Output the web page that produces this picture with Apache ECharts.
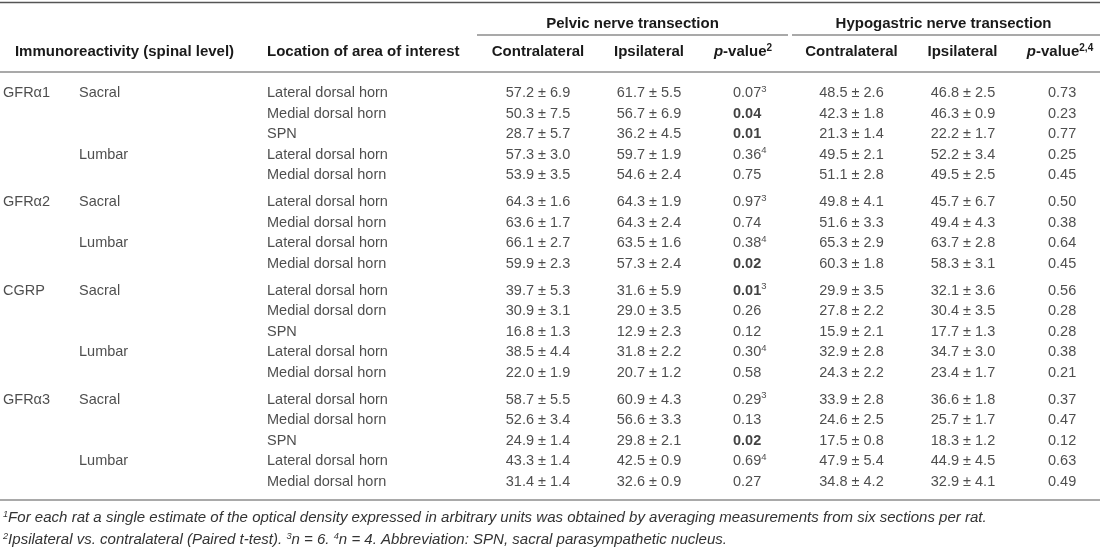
<!DOCTYPE html>
<html><head><meta charset="utf-8">
<script src="https://cdn.jsdelivr.net/npm/echarts@6/dist/echarts.min.js"></script>
<style>html,body{margin:0;padding:0;background:#fff}#c{width:1100px;height:551px}</style>
</head><body><div id="c"></div>
<script>
// ---------- data ----------
const immunoreactivity = ['GFRα1', 'GFRα2', 'CGRP', 'GFRα3'];
const rowGroup = [0,0,0,0,0, 1,1,1,1, 2,2,2,2,2, 3,3,3,3,3];
const spinalLevel = ['Sacral','','','Lumbar','', 'Sacral','','Lumbar','', 'Sacral','','','Lumbar','', 'Sacral','','','Lumbar',''];
const locations = [
  'Lateral dorsal horn','Medial dorsal horn','SPN','Lateral dorsal horn','Medial dorsal horn',
  'Lateral dorsal horn','Medial dorsal horn','Lateral dorsal horn','Medial dorsal horn',
  'Lateral dorsal horn','Medial dorsal dorn','SPN','Lateral dorsal horn','Medial dorsal horn',
  'Lateral dorsal horn','Medial dorsal horn','SPN','Lateral dorsal horn','Medial dorsal horn'];
const pelvicContraMean = [57.2,50.3,28.7,57.3,53.9, 64.3,63.6,66.1,59.9, 39.7,30.9,16.8,38.5,22.0, 58.7,52.6,24.9,43.3,31.4];
const pelvicContraSD   = [6.9,7.5,5.7,3.0,3.5, 1.6,1.7,2.7,2.3, 5.3,3.1,1.3,4.4,1.9, 5.5,3.4,1.4,1.4,1.4];
const pelvicIpsiMean   = [61.7,56.7,36.2,59.7,54.6, 64.3,64.3,63.5,57.3, 31.6,29.0,12.9,31.8,20.7, 60.9,56.6,29.8,42.5,32.6];
const pelvicIpsiSD     = [5.5,6.9,4.5,1.9,2.4, 1.9,2.4,1.6,2.4, 5.9,3.5,2.3,2.2,1.2, 4.3,3.3,2.1,0.9,0.9];
const pelvicP          = [0.07,0.04,0.01,0.36,0.75, 0.97,0.74,0.38,0.02, 0.01,0.26,0.12,0.30,0.58, 0.29,0.13,0.02,0.69,0.27];
const pelvicPNote      = ['3','','','4','', '3','','4','', '3','','','4','', '3','','','4',''];
const hypoContraMean   = [48.5,42.3,21.3,49.5,51.1, 49.8,51.6,65.3,60.3, 29.9,27.8,15.9,32.9,24.3, 33.9,24.6,17.5,47.9,34.8];
const hypoContraSD     = [2.6,1.8,1.4,2.1,2.8, 4.1,3.3,2.9,1.8, 3.5,2.2,2.1,2.8,2.2, 2.8,2.5,0.8,5.4,4.2];
const hypoIpsiMean     = [46.8,46.3,22.2,52.2,49.5, 45.7,49.4,63.7,58.3, 32.1,30.4,17.7,34.7,23.4, 36.6,25.7,18.3,44.9,32.9];
const hypoIpsiSD       = [2.5,0.9,1.7,3.4,2.5, 6.7,4.3,2.8,3.1, 3.6,3.5,1.3,3.0,1.7, 1.8,1.7,1.2,4.5,4.1];
const hypoP            = [0.73,0.23,0.77,0.25,0.45, 0.50,0.38,0.64,0.45, 0.56,0.28,0.28,0.38,0.21, 0.37,0.47,0.12,0.63,0.49];

const groupHeaders = ['Pelvic nerve transection', 'Hypogastric nerve transection'];
const columnHeaders = ['Immunoreactivity (spinal level)', 'Location of area of interest',
  'Contralateral', 'Ipsilateral', '{i|p}-value{s|2}', 'Contralateral', 'Ipsilateral', '{i|p}-value{s|2,4}'];
const footnotes = [
  '{s|1}For each rat a single estimate of the optical density expressed in arbitrary units was obtained by averaging measurements from six sections per rat.',
  '{s|2}Ipsilateral vs. contralateral (Paired t-test). {s|3}n = 6. {s|4}n = 4. Abbreviation: SPN, sacral parasympathetic nucleus.'
];
const SIG = 0.05;

// ---------- layout / style ----------
const W = 1100, H = 551;
const FIRST_ROW_Y = 93, ROW_PX = 20.5, GROUP_GAP = 6.5 / ROW_PX;
const FONT = "'Liberation Sans', Arial, Helvetica, sans-serif";
const TXT = '#222', RULE = '#555';
const BODY_SIZE = 14.5, HEAD_SIZE = 15;
const cols = [
  {x: 3, align: 'left'}, {x: 79, align: 'left'}, {x: 267, align: 'left'},
  {x: 538, align: 'center'}, {x: 649, align: 'center'}, {x: 733, align: 'left'},
  {x: 851.5, align: 'center'}, {x: 963, align: 'center'}, {x: 1048, align: 'left'}
];

const rowY = i => i + rowGroup[i] * GROUP_GAP;
const fmt = (m, s) => m.toFixed(1) + ' ± ' + s.toFixed(1);
const pText = (p, note) => (p <= SIG ? '{bold|' + p.toFixed(2) + '}' : p.toFixed(2)) + (note ? '{sup|' + note + '}' : '');

const columnTexts = [
  rowGroup.map((g, i) => (i === 0 || rowGroup[i - 1] !== g) ? immunoreactivity[g] : ''),
  spinalLevel,
  locations,
  pelvicContraMean.map((m, i) => fmt(m, pelvicContraSD[i])),
  pelvicIpsiMean.map((m, i) => fmt(m, pelvicIpsiSD[i])),
  pelvicP.map((p, i) => pText(p, pelvicPNote[i])),
  hypoContraMean.map((m, i) => fmt(m, hypoContraSD[i])),
  hypoIpsiMean.map((m, i) => fmt(m, hypoIpsiSD[i])),
  hypoP.map(p => pText(p, ''))
];

const rich = {
  bold: {fontFamily: FONT, fontSize: BODY_SIZE, fontWeight: 'bold', color: '#111', lineHeight: 18},
  sup: {fontFamily: FONT, fontSize: 9.5, color: TXT, verticalAlign: 'top', lineHeight: 10}
};

const series = columnTexts.map((texts, c) => ({
  type: 'scatter',
  symbolSize: 0,
  silent: true,
  clip: false,
  data: texts.map((t, i) => ({name: t, value: [cols[c].x, rowY(i)]})).filter(d => d.name !== ''),
  label: {
    show: true, position: 'inside', align: cols[c].align, verticalAlign: 'middle',
    fontFamily: FONT, fontSize: BODY_SIZE, color: TXT, lineHeight: 18,
    formatter: p => p.name, rich
  }
}));

// header / rules / footnotes
const headRich = {
  i: {fontFamily: FONT, fontSize: HEAD_SIZE, fontWeight: 'bold', fontStyle: 'italic', fill: '#1a1a1a', lineHeight: 18},
  s: {fontFamily: FONT, fontSize: 10, fontWeight: 'bold', fill: '#1a1a1a', verticalAlign: 'top', lineHeight: 10}
};
const headText = (text, x, y, align) => ({
  type: 'text', x, y, silent: true,
  style: {text, fill: '#1a1a1a', fontFamily: FONT, fontSize: HEAD_SIZE, fontWeight: 'bold',
          align, verticalAlign: 'middle', lineHeight: 18, rich: headRich}
});
const rule = (x1, x2, y, w) => ({type: 'line', silent: true, shape: {x1, y1: y, x2, y2: y},
  style: {stroke: RULE, lineWidth: w}});

const headerCols = [
  {x: 124.5, align: 'center'}, {x: 267, align: 'left'},
  {x: 538, align: 'center'}, {x: 649, align: 'center'}, {x: 743, align: 'center'},
  {x: 851.5, align: 'center'}, {x: 962.5, align: 'center'}, {x: 1060, align: 'center'}
];
const graphics = [
  rule(0, W, 2.5, 1.3), rule(477, 788, 35, 1.1), rule(792, W, 35, 1.1),
  rule(0, W, 72, 1.1), rule(0, W, 500, 1.1),
  headText(groupHeaders[0], 632.5, 24, 'center'),
  headText(groupHeaders[1], 943.5, 24, 'center')
];
columnHeaders.forEach((t, k) => graphics.push(headText(t, headerCols[k].x, 52, headerCols[k].align)));
footnotes.forEach((t, k) => graphics.push({
  type: 'text', x: 3, y: 518 + k * 22, scaleX: 0.97, silent: true,
  style: {text: t, fill: '#333', fontFamily: FONT, fontSize: 15.5, fontStyle: 'italic',
    align: 'left', verticalAlign: 'middle', lineHeight: 18,
    rich: {s: {fontFamily: FONT, fontSize: 9.5, fontStyle: 'italic', fill: '#333', verticalAlign: 'top', lineHeight: 10}}}
}));

const chart = echarts.init(document.getElementById('c'), null, {renderer: 'canvas'});
chart.setOption({
  animation: false,
  backgroundColor: '#fff',
  grid: {left: 0, right: 0, top: 0, bottom: 0},
  xAxis: {type: 'value', min: 0, max: W, show: false},
  yAxis: {type: 'value', inverse: true, show: false,
          min: -FIRST_ROW_Y / ROW_PX, max: (H - FIRST_ROW_Y) / ROW_PX},
  series,
  graphic: graphics
});
</script></body></html>
